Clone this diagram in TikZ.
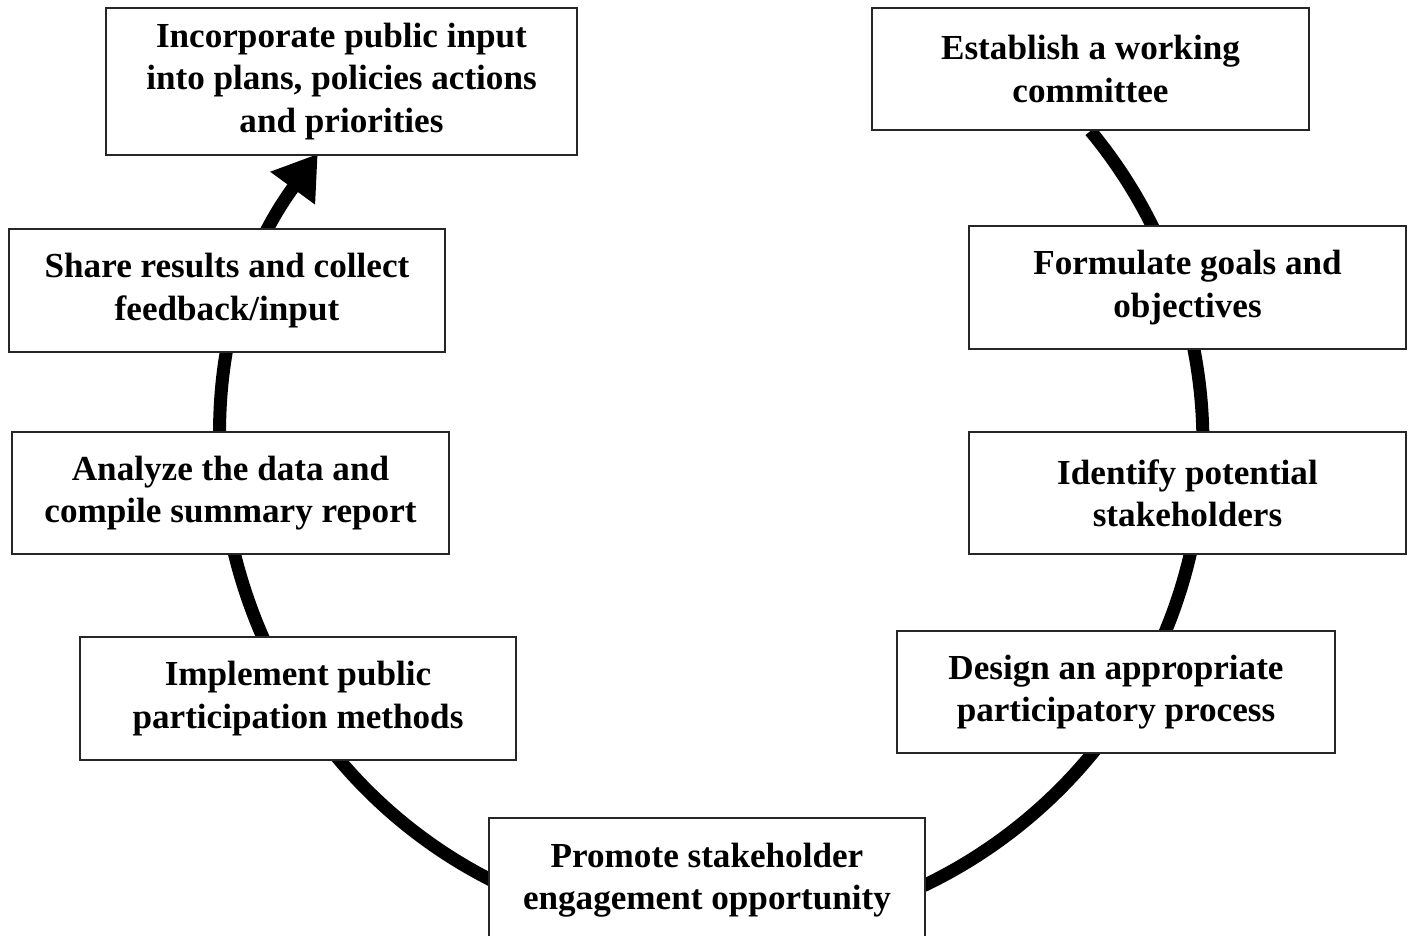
\documentclass[tikz,border=0pt]{standalone}
\usepackage{fontspec}
\setmainfont{Liberation Serif}
\usetikzlibrary{arrows.meta,backgrounds}
\tikzset{
  stepbox/.style={draw=black!85, line width=1.1pt, fill=white, align=center,
    inner sep=0pt, font=\bfseries\fontsize{20}{24}\selectfont},
  flow/.style={line width=0.26cm, black}
}
\begin{document}
\begin{tikzpicture}[x=0.02cm, y=-0.02cm]
\useasboundingbox (0,0) rectangle (1413,936);
\clip (0,0) rectangle (1413,936);
\node[stepbox, minimum width=9.42cm, minimum height=2.94cm] (inc) at (341.5,81.5)
  {Incorporate public input\\into plans, policies actions\\and priorities};
\node[stepbox, minimum width=8.72cm, minimum height=2.46cm] (share) at (227,290.5)
  {Share results and collect\\feedback/input};
\node[stepbox, minimum width=8.74cm, minimum height=2.44cm] (anal) at (230.5,493)
  {Analyze the data and\\compile summary report};
\node[stepbox, minimum width=8.72cm, minimum height=2.46cm] (impl) at (298,698.5)
  {Implement public\\participation methods};
\node[stepbox, minimum width=8.72cm, minimum height=2.48cm] (prom) at (707,880)
  {Promote stakeholder\\engagement opportunity};
\node[stepbox, minimum width=8.76cm, minimum height=2.44cm] (des) at (1116,692)
  {Design an appropriate\\participatory process};
\node[stepbox, minimum width=8.74cm, minimum height=2.44cm] (ident) at (1187.5,493)
  {Identify potential\\stakeholders};
\node[stepbox, minimum width=8.74cm, minimum height=2.46cm] (form) at (1187.5,287.5)
  {Formulate goals and\\objectives};
\node[stepbox, minimum width=8.74cm, minimum height=2.44cm] (est) at (1090.5,69)
  {Establish a working\\committee};
\begin{scope}[on background layer]
\draw[flow, -{Triangle[length=0.85cm, width=1.05cm]}]
  (est.south) arc[start angle=39.6, end angle=-216.2, radius=9.8cm];
\end{scope}
\end{tikzpicture}
\end{document}
